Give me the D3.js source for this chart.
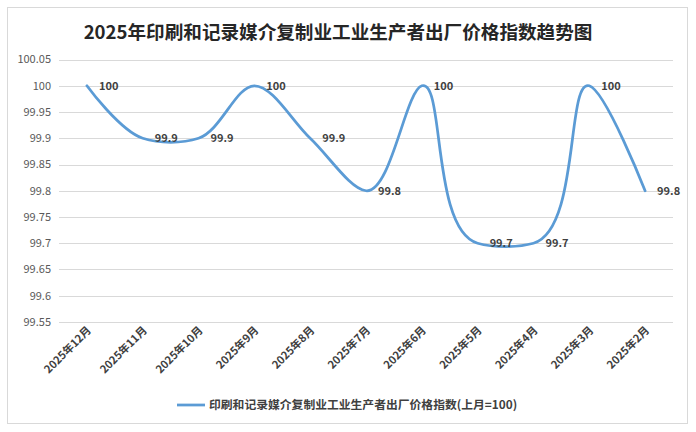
<!DOCTYPE html>
<html>
<head>
<meta charset="utf-8">
<script src="https://cdn.jsdelivr.net/npm/d3@7/dist/d3.min.js"></script>
<style>
  html, body { margin: 0; padding: 0; background: #ffffff; }
  svg { display: block; }
  text { font-family: "Noto Sans CJK SC", "Noto Sans", sans-serif; }
</style>
</head>
<body>
<svg id="chart" width="696" height="432"></svg>
<script>
const title = "2025年印刷和记录媒介复制业工业生产者出厂价格指数趋势图";
const seriesName = "印刷和记录媒介复制业工业生产者出厂价格指数(上月=100)";
const categories = ["2025年12月", "2025年11月", "2025年10月", "2025年9月", "2025年8月", "2025年7月", "2025年6月", "2025年5月", "2025年4月", "2025年3月", "2025年2月"];
const values = [100, 99.9, 99.9, 100, 99.9, 99.8, 100, 99.7, 99.7, 100, 99.8];
const yTicks = [99.55, 99.6, 99.65, 99.7, 99.75, 99.8, 99.85, 99.9, 99.95, 100, 100.05];
const yTickLabels = ["99.55", "99.6", "99.65", "99.7", "99.75", "99.8", "99.85", "99.9", "99.95", "100", "100.05"];
const valueLabels = ["100", "99.9", "99.9", "100", "99.9", "99.8", "100", "99.7", "99.7", "100", "99.8"];

const svg = d3.select("#chart");

// outer border
svg.append("rect")
  .attr("x", 7.5).attr("y", 7.5).attr("width", 680).attr("height", 416)
  .attr("fill", "#ffffff").attr("stroke", "#d9d9d9").attr("stroke-width", 1);

// title
svg.append("text")
  .attr("x", 338).attr("y", 39)
  .attr("text-anchor", "middle")
  .attr("font-size", 18.6).attr("font-weight", "bold")
  .attr("fill", "#262626")
  .text(title);

const x = d3.scaleBand().domain(categories).range([59, 673]);
const y = d3.scaleLinear().domain([99.55, 100.05]).range([322, 59.5]);
const cx = d => x(d) + x.bandwidth() / 2;

// gridlines
svg.append("g").selectAll("line").data(yTicks).join("line")
  .attr("x1", 59).attr("x2", 673)
  .attr("y1", d => Math.round(y(d)) + 0.5).attr("y2", d => Math.round(y(d)) + 0.5)
  .attr("stroke", "#d9d9d9").attr("stroke-width", 1);

// y labels
svg.append("g").selectAll("text").data(yTicks).join("text")
  .attr("x", 51).attr("y", d => y(d))
  .attr("dy", "0.35em")
  .attr("text-anchor", "end")
  .attr("font-size", 11).attr("fill", "#595959")
  .text((d, i) => yTickLabels[i]);

// x labels
svg.append("g").selectAll("text").data(categories).join("text")
  .attr("transform", d => `translate(${cx(d) + 5},${331}) rotate(-45)`)
  .attr("text-anchor", "end")
  .attr("font-size", 11).attr("font-weight", "bold").attr("fill", "#404040")
  .text(d => d);

// line
const line = d3.line()
  .x((d, i) => cx(categories[i]))
  .y(d => y(d))
  .curve(d3.curveCatmullRom.alpha(1));

svg.append("path")
  .datum(values)
  .attr("d", line)
  .attr("fill", "none")
  .attr("stroke", "#5b9bd5")
  .attr("stroke-width", 2.75)
  .attr("stroke-linecap", "round")
  .attr("stroke-linejoin", "round");

// data labels
svg.append("g").selectAll("text").data(values).join("text")
  .attr("x", (d, i) => cx(categories[i]) + 12)
  .attr("y", d => y(d))
  .attr("dy", "0.35em")
  .attr("font-size", 11).attr("font-weight", "bold").attr("fill", "#404040")
  .text((d, i) => valueLabels[i]);

// legend
svg.append("line")
  .attr("x1", 177).attr("x2", 205).attr("y1", 405).attr("y2", 405)
  .attr("stroke", "#5b9bd5").attr("stroke-width", 2.75);
svg.append("text")
  .attr("x", 209).attr("y", 405).attr("dy", "0.35em")
  .attr("font-size", 11.8).attr("font-weight", "bold").attr("fill", "#404040")
  .text(seriesName);
</script>
</body>
</html>
